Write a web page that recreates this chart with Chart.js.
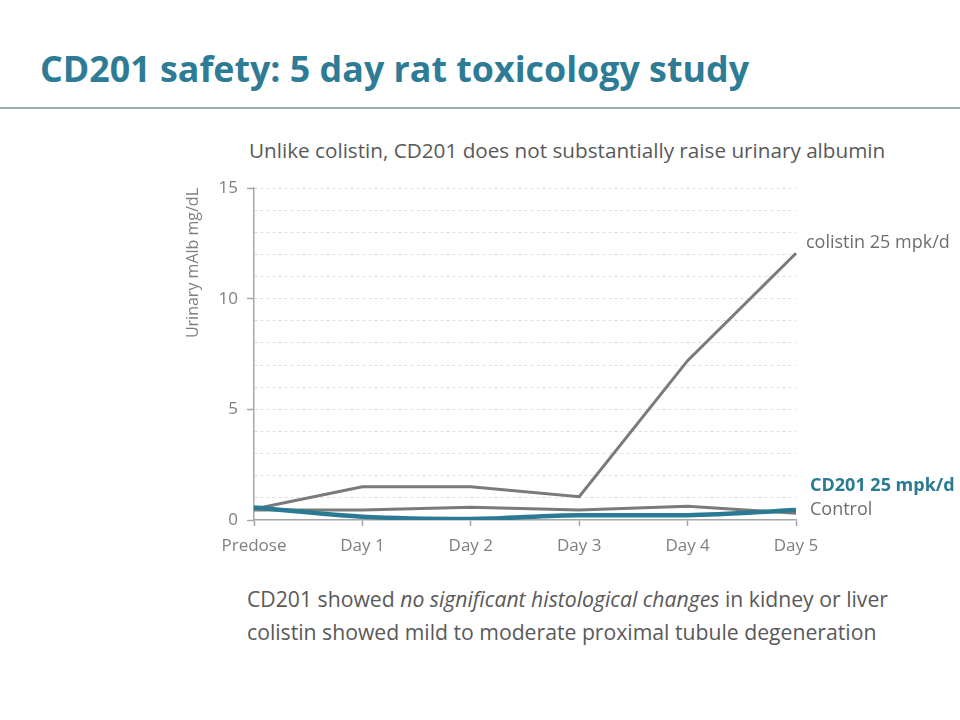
<!DOCTYPE html>
<html>
<head>
<meta charset="utf-8">
<script src="https://cdn.jsdelivr.net/npm/chart.js@4"></script>
<style>
  body { margin: 0; width: 960px; height: 720px; position: relative; overflow: hidden; background: #fff; font-family: "Open Sans", sans-serif; }
  #title { position: absolute; left: 40px; top: 44px; font-size: 35.8px; font-weight: bold; color: #2e7b96; white-space: nowrap; line-height: 48px; }
  #rule { position: absolute; left: 0; top: 107px; width: 960px; height: 2px; background: #98aeb6; }
  #subtitle { position: absolute; left: 249px; top: 136px; font-size: 20.7px; color: #595959; white-space: nowrap; }
  #notes { position: absolute; left: 247px; top: 582px; font-size: 21.2px; line-height: 33px; color: #595959; white-space: nowrap; }
  #wrap { position: absolute; left: 0; top: 0; width: 960px; height: 720px; }
</style>
</head>
<body>
<div id="title">CD201 safety: 5 day rat toxicology study</div>
<div id="rule"></div>
<div id="subtitle">Unlike colistin, CD201 does not substantially raise urinary albumin</div>
<div id="notes">CD201 showed <i>no significant histological changes</i> in kidney or liver<br>colistin showed mild to moderate proximal tubule degeneration</div>
<div id="wrap"><canvas id="myChart"></canvas></div>
<script>
let days = ["Predose", "Day 1", "Day 2", "Day 3", "Day 4", "Day 5"];
let cd201 = [0.57, 0.15, 0.05, 0.22, 0.22, 0.45];
let control = [0.45, 0.45, 0.58, 0.45, 0.62, 0.3];
let colistin = [0.5, 1.5, 1.5, 1.05, 7.2, 12.05];
let seriesNames = ["CD201 25 mpk/d", "Control", "colistin 25 mpk/d"];

let gray = "#7a7a7a";
let teal = "#2b7a94";

// writes each series name next to its last point
let endLabels = {
	id: "endLabels",
	afterDatasetsDraw(chart) {
		let ctx = chart.ctx;
		let offsets = [[14, -24], [14, -3], [10, -10]];
		chart.data.datasets.forEach(function(ds, i) {
			let pts = chart.getDatasetMeta(i).data;
			let last = pts[pts.length - 1];
			ctx.save();
			ctx.font = (i == 0 ? "bold " : "") + "18px 'Open Sans'";
			ctx.fillStyle = i == 0 ? teal : "#6e6e6e";
			ctx.textBaseline = "middle";
			ctx.fillText(ds.label, last.x + offsets[i][0], last.y + offsets[i][1]);
			ctx.restore();
		});
	}
};

let ctx = document.getElementById("myChart").getContext("2d");
let chart = new Chart(ctx, {
	type: "line",
	data: {
		labels: days,
		datasets: [
			{ label: seriesNames[0], data: cd201, borderColor: teal, borderWidth: 4.5, cubicInterpolationMode: "monotone", tension: 0.3 },
			{ label: seriesNames[1], data: control, borderColor: gray, borderWidth: 3 },
			{ label: seriesNames[2], data: colistin, borderColor: gray, borderWidth: 3 }
		]
	},
	options: {
		responsive: true,
		maintainAspectRatio: false,
		animation: false,
		elements: { point: { radius: 0 }, line: { tension: 0 } },
		layout: { padding: { left: 180, right: 164, top: 188, bottom: 150 } },
		plugins: { legend: { display: false }, tooltip: { enabled: false } },
		scales: {
			x: {
				afterFit: function(scale) { scale.height = 50; },
				grid: { drawOnChartArea: false, drawTicks: true, tickLength: 6, tickColor: "#a6a6a6", tickWidth: 1.5 },
				border: { color: "#a6a6a6", width: 1.5 },
				ticks: { color: "#7f7f7f", font: { family: "Open Sans", size: 17 }, padding: 10, maxRotation: 0 }
			},
			y: {
				min: 0,
				max: 15,
				afterFit: function(scale) { scale.width = 74; },
				grid: {
					color: function(c) { return c.tick.value == 0 ? "transparent" : "#dedede"; },
					lineWidth: 1,
					tickLength: 7,
					tickWidth: 1.5,
					tickBorderDash: [],
					tickColor: function(c) { return c.tick.value % 5 == 0 ? "#a6a6a6" : "transparent"; }
				},
				border: { color: "#a6a6a6", width: 1.5, dash: [3, 3] },
				ticks: {
					stepSize: 1,
					autoSkip: false,
					color: "#7f7f7f",
					font: { family: "Open Sans", size: 17 },
					padding: 9,
					callback: function(v) { return v % 5 == 0 ? v : ""; }
				},
				title: {
					display: true,
					text: "Urinary mAlb mg/dL",
					align: "end",
					color: "#7f7f7f",
					font: { family: "Open Sans", size: 16 },
					padding: { top: 4, bottom: 0 }
				}
			}
		}
	},
	plugins: [endLabels]
});
</script>
</body>
</html>
